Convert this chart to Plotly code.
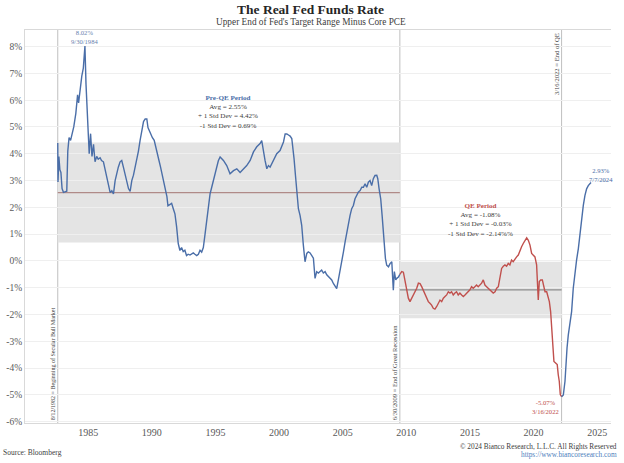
import plotly.graph_objects as go
from datetime import datetime

# ---------------- data ----------------
pre_qe_years = [1982.612, 1982.63, 1982.70, 1982.78, 1982.86, 1982.95, 1983.06, 1983.20, 1983.32, 1983.40,
                1983.50, 1983.62, 1983.75, 1983.87, 1984.03, 1984.17, 1984.25, 1984.37, 1984.50, 1984.62,
                1984.747, 1984.83, 1984.95, 1985.08, 1985.19, 1985.30, 1985.42, 1985.54, 1985.67, 1985.79,
                1985.94, 1986.05, 1986.20, 1986.36, 1986.47, 1986.61, 1986.73, 1986.86, 1986.99, 1987.12,
                1987.25, 1987.37, 1987.51, 1987.64, 1987.77, 1987.90, 1988.04, 1988.17, 1988.30, 1988.43,
                1988.56, 1988.69, 1988.82, 1988.95, 1989.08, 1989.22, 1989.35, 1989.48, 1989.61, 1989.70,
                1989.80, 1989.92, 1990.05, 1990.19, 1990.32, 1990.44, 1990.57, 1990.69, 1990.82, 1990.95,
                1991.07, 1991.19, 1991.27, 1991.42, 1991.56, 1991.69, 1991.82, 1991.95, 1992.08, 1992.21,
                1992.34, 1992.47, 1992.60, 1992.73, 1992.86, 1993.00, 1993.13, 1993.26, 1993.39, 1993.53,
                1993.66, 1993.79, 1993.92, 1994.05, 1994.19, 1994.32, 1994.45, 1994.58, 1994.71, 1994.84,
                1994.97, 1995.10, 1995.23, 1995.37, 1995.63, 1995.89, 1996.15, 1996.42, 1996.68, 1996.94,
                1997.20, 1997.46, 1997.73, 1997.99, 1998.25, 1998.51, 1998.64, 1998.77, 1998.90, 1999.04,
                1999.17, 1999.30, 1999.43, 1999.56, 1999.82, 2000.08, 2000.22, 2000.35, 2000.48, 2000.61,
                2000.74, 2000.87, 2001.00, 2001.08, 2001.18, 2001.29, 2001.39, 2001.52, 2001.65, 2001.78,
                2001.91, 2002.04, 2002.18, 2002.30, 2002.44, 2002.57, 2002.70, 2002.83, 2002.96, 2003.09,
                2003.22, 2003.35, 2003.48, 2003.62, 2003.75, 2003.88, 2004.01, 2004.14, 2004.27, 2004.40,
                2004.53, 2004.66, 2004.80, 2004.93, 2005.06, 2005.19, 2005.32, 2005.45, 2005.58, 2005.71,
                2005.84, 2005.97, 2006.10, 2006.23, 2006.37, 2006.50, 2006.63, 2006.76, 2006.89, 2007.02,
                2007.15, 2007.28, 2007.41, 2007.54, 2007.68, 2007.76, 2007.86, 2007.99, 2008.10, 2008.20,
                2008.28, 2008.36, 2008.46, 2008.60, 2008.72, 2008.86, 2008.93, 2008.98, 2009.06, 2009.17,
                2009.25, 2009.38, 2009.493]
pre_qe_vals = [4.40, 2.95, 3.90, 3.40, 3.30, 2.70, 2.56, 2.58, 2.60, 4.10,
               4.60, 4.50, 4.75, 5.00, 5.50, 6.20, 5.90, 6.50, 6.90, 7.20,
               8.02, 6.60, 5.40, 4.00, 4.75, 3.90, 4.35, 3.70, 3.90, 3.80,
               3.85, 3.75, 3.70, 3.35, 3.10, 2.88, 2.55, 2.62, 2.50, 3.00,
               3.30, 3.50, 3.70, 3.75, 3.50, 3.25, 3.00, 2.70, 2.60, 3.00,
               3.20, 3.50, 3.70, 4.10, 4.50, 4.85, 5.20, 5.30, 5.30, 4.98,
               4.85, 4.72, 4.60, 4.50, 4.20, 4.00, 3.74, 3.50, 3.20, 3.00,
               2.70, 2.40, 2.06, 2.10, 2.15, 1.95, 1.76, 1.28, 0.65, 0.39,
               0.50, 0.35, 0.40, 0.20, 0.25, 0.22, 0.25, 0.30, 0.25, 0.20,
               0.25, 0.40, 0.33, 0.50, 1.02, 1.50, 1.95, 2.50, 2.75, 3.00,
               3.25, 3.50, 3.74, 3.88, 3.75, 3.56, 3.25, 3.37, 3.44, 3.30,
               3.44, 3.56, 3.75, 4.07, 4.26, 4.38, 4.49, 4.07, 3.75, 3.44,
               3.56, 3.50, 3.62, 3.75, 4.00, 4.12, 4.30, 4.44, 4.74, 4.74,
               4.70, 4.66, 4.57, 4.30, 3.81, 3.19, 2.57, 1.95, 1.70, 1.33,
               0.59, -0.03, 0.28, 0.34, 0.30, 0.22, 0.10, -0.65, -0.40, -0.45,
               -0.40, -0.34, -0.45, -0.40, -0.52, -0.58, -0.65, -0.71, -0.84, -0.96,
               -1.03, -0.71, -0.28, 0.09, 0.34, 0.71, 1.09, 1.46, 1.70, 1.95,
               2.07, 2.32, 2.45, 2.57, 2.63, 2.75, 2.75, 2.88, 2.75, 2.94,
               3.00, 2.81, 3.07, 3.19, 3.20, 3.07, 2.70, 2.32, 1.70, 0.96,
               0.59, 0.09, -0.16, -0.22, -0.10, -0.03, -0.65, -1.09, -0.40, -0.71,
               -0.65, -0.60, -0.50]

qe_years = [2009.493, 2009.64, 2009.77, 2009.90, 2010.03, 2010.16, 2010.29, 2010.42, 2010.56, 2010.69,
            2010.82, 2010.95, 2011.08, 2011.21, 2011.34, 2011.47, 2011.60, 2011.73, 2011.86, 2011.99,
            2012.12, 2012.25, 2012.39, 2012.52, 2012.65, 2012.78, 2012.91, 2013.04, 2013.17, 2013.30,
            2013.43, 2013.56, 2013.69, 2013.82, 2013.95, 2014.08, 2014.21, 2014.35, 2014.48, 2014.61,
            2014.74, 2014.87, 2015.00, 2015.13, 2015.26, 2015.39, 2015.52, 2015.65, 2015.79, 2015.92,
            2016.05, 2016.18, 2016.31, 2016.44, 2016.57, 2016.70, 2016.83, 2016.97, 2017.10, 2017.23,
            2017.36, 2017.49, 2017.62, 2017.75, 2017.88, 2018.01, 2018.14, 2018.27, 2018.40, 2018.54,
            2018.67, 2018.80, 2018.93, 2019.06, 2019.19, 2019.32, 2019.46, 2019.59, 2019.72, 2019.85,
            2019.98, 2020.11, 2020.24, 2020.32, 2020.37, 2020.45, 2020.56, 2020.69, 2020.79, 2020.90,
            2021.03, 2021.16, 2021.24, 2021.34, 2021.42, 2021.50, 2021.60, 2021.73, 2021.86, 2021.94,
            2022.02, 2022.10, 2022.204]
qe_vals = [-0.50, -0.40, -0.42, -0.77, -1.15, -1.39, -1.52, -1.40, -1.27, -1.15,
           -1.02, -0.83, -0.85, -0.96, -1.10, -1.27, -1.40, -1.52, -1.58, -1.65,
           -1.77, -1.80, -1.70, -1.58, -1.46, -1.52, -1.39, -1.33, -1.27, -1.15,
           -1.20, -1.15, -1.27, -1.20, -1.15, -1.27, -1.20, -1.27, -1.33, -1.27,
           -1.20, -1.15, -1.08, -0.96, -1.02, -0.96, -0.90, -0.96, -0.90, -0.83,
           -0.71, -0.90, -0.96, -1.02, -1.08, -1.15, -1.20, -1.15, -1.02, -0.96,
           -0.53, -0.28, -0.20, -0.15, -0.20, -0.09, -0.15, 0.03, -0.03, 0.09,
           0.15, 0.22, 0.40, 0.53, 0.65, 0.77, 0.86, 0.77, 0.59, 0.28,
           0.22, 0.15, -0.15, -1.02, -1.46, -0.77, -0.71, -0.71, -0.90, -1.15,
           -1.15, -1.33, -1.52, -1.89, -2.51, -3.25, -3.75, -3.81, -3.87, -4.25,
           -4.49, -4.99, -5.07]

post_qe_years = [2022.204, 2022.34, 2022.47, 2022.55, 2022.63, 2022.73, 2022.86, 2022.99, 2023.12, 2023.25,
                 2023.38, 2023.52, 2023.65, 2023.78, 2023.91, 2024.04, 2024.17, 2024.30, 2024.43, 2024.513]
post_qe_vals = [-5.07, -5.00, -4.49, -3.75, -3.25, -2.76, -2.26, -1.89, -1.02, -0.40,
                0.03, 0.46, 1.09, 1.70, 2.07, 2.45, 2.69, 2.81, 2.90, 2.93]

pre_qe_stats = [2.55, 4.42, 0.69]     # avg, +1 sd, -1 sd
qe_stats = [-1.08, -0.03, -2.14]

event_dates = ["1982-08-12", "2009-06-30", "2022-03-16"]
event_labels = ["8/12/1982 = Beginning of Secular Bull Market",
                "6/30/2009 = End of Great Recession",
                "3/16/2022 = End of QE"]
point_labels = ["9/30/1984", "3/16/2022", "7/7/2024"]

year_ticks = [1985, 1990, 1995, 2000, 2005, 2010, 2015, 2020, 2025]
pct_ticks = [-6, -5, -4, -3, -2, -1, 0, 1, 2, 3, 4, 5, 6, 7, 8]

# ---------------- helpers ----------------
def to_date(y):
    yi = int(y)
    a = datetime(yi, 1, 1)
    b = datetime(yi + 1, 1, 1)
    return a + (b - a) * (y - yi)

BLUE = "#4a6ea8"
RED = "#c0504d"
SERIF = "Liberation Serif"
TXT = "#404040"

fig = go.Figure()
for xs, ys, col in [(pre_qe_years, pre_qe_vals, BLUE),
                    (qe_years, qe_vals, RED),
                    (post_qe_years, post_qe_vals, BLUE)]:
    fig.add_trace(go.Scatter(x=[to_date(v) for v in xs], y=ys, mode="lines",
                             line=dict(color=col, width=1.4), showlegend=False,
                             hoverinfo="x+y"))

shapes = []
# std-dev bands
shapes.append(dict(type="rect", xref="x", yref="y", x0=event_dates[0], x1=event_dates[1],
                   y0=pre_qe_stats[2], y1=pre_qe_stats[1], fillcolor="#e4e4e4",
                   line=dict(width=0), layer="below"))
shapes.append(dict(type="rect", xref="x", yref="y", x0=event_dates[1], x1=event_dates[2],
                   y0=qe_stats[2], y1=qe_stats[1], fillcolor="#e4e4e4",
                   line=dict(width=0), layer="below"))
# averages
shapes.append(dict(type="line", xref="x", yref="y", x0=event_dates[0], x1=event_dates[1],
                   y0=pre_qe_stats[0], y1=pre_qe_stats[0], line=dict(color="#b08a88", width=1.2),
                   layer="below"))
shapes.append(dict(type="line", xref="x", yref="y", x0=event_dates[1], x1=event_dates[2],
                   y0=qe_stats[0], y1=qe_stats[0], line=dict(color="#8c8c8c", width=1.2),
                   layer="below"))
# event lines
for d in event_dates:
    shapes.append(dict(type="line", xref="x", yref="paper", x0=d, x1=d, y0=0, y1=1,
                       line=dict(color="#bfbfbf", width=1), layer="below"))

ann = []
def A(**kw):
    base = dict(showarrow=False, borderpad=0, xanchor="center", yanchor="middle",
                font=dict(family=SERIF, size=7.3, color=TXT))
    base.update(kw)
    ann.append(base)

# event labels (vertical)
A(x=event_dates[0], y=0, xref="x", yref="paper", text=event_labels[0], textangle=-90,
  xanchor="right", yanchor="bottom", xshift=-1, yshift=2, font=dict(family=SERIF, size=6.0, color=TXT))
A(x=event_dates[1], y=0, xref="x", yref="paper", text=event_labels[1], textangle=-90,
  xanchor="right", yanchor="bottom", xshift=-1, yshift=2, font=dict(family=SERIF, size=6.5, color=TXT))
A(x=event_dates[2], y=1, xref="x", yref="paper", text=event_labels[2], textangle=-90,
  xanchor="right", yanchor="top", xshift=-1, yshift=-2, font=dict(family=SERIF, size=6.6, color=TXT))

# peak label
peak_i = pre_qe_vals.index(max(pre_qe_vals))
A(x=to_date(pre_qe_years[peak_i]), y=pre_qe_vals[peak_i],
  text=f"{pre_qe_vals[peak_i]:.2f}%<br>{point_labels[0]}",
  yanchor="bottom", yshift=0, font=dict(family=SERIF, size=6.6, color="#6a84b0"))

# trough label
A(x=to_date(qe_years[-1]), y=qe_vals[-1], text=f"{qe_vals[-1]:.2f}%<br>{point_labels[1]}",
  xshift=-16, yanchor="top", yshift=-1, font=dict(family=SERIF, size=6.6, color=RED))

# last value label
A(x=to_date(post_qe_years[-1]), y=post_qe_vals[-1],
  text=f"{post_qe_vals[-1]:.2f}%<br>{point_labels[2]}", xshift=10,
  yanchor="bottom", yshift=-2, font=dict(family=SERIF, size=6.6, color=BLUE))

# period stat boxes
pre_text = (f"<span style='color:{BLUE}'><b>Pre-QE Period</b></span><br>"
            f"Avg = {pre_qe_stats[0]:.2f}%<br>"
            f"+ 1 Std Dev = {pre_qe_stats[1]:.2f}%<br>"
            f"-1 Std Dev = {pre_qe_stats[2]:.2f}%")
A(x=to_date(1996.0), y=5.55, text=pre_text, font=dict(family=SERIF, size=7.1, color=TXT))
qe_text = (f"<span style='color:{RED}'><b>QE Period</b></span><br>"
           f"Avg = {qe_stats[0]:.2f}%<br>"
           f"+ 1 Std Dev = {qe_stats[1]:.2f}%<br>"
           f"-1 Std Dev = {qe_stats[2]:.2f}%%")
A(x=to_date(2015.87), y=1.52, text=qe_text, font=dict(family=SERIF, size=7.1, color=TXT))

# titles & footers (paper coords; plot area: left 25, width 586, top 30, height 393)
A(x=0.488, y=1.051, xref="paper", yref="paper", text="<b>The Real Fed Funds Rate</b>",
  font=dict(family=SERIF, size=13.5, color="#262626"))
A(x=0.488, y=1.020, xref="paper", yref="paper", text="Upper End of Fed's Target Range Minus Core PCE",
  font=dict(family=SERIF, size=9.3, color=TXT))
A(x=-0.039, y=-0.074, xref="paper", yref="paper", text="Source: Bloomberg", xanchor="left",
  font=dict(family=SERIF, size=7.5, color=TXT))
A(x=1.012, y=-0.060, xref="paper", yref="paper", text="© 2024 Bianco Research, L.L.C. All Rights Reserved",
  xanchor="right", font=dict(family=SERIF, size=7.3, color=TXT))
A(x=1.012, y=-0.081, xref="paper", yref="paper", text="https://www.biancoresearch.com",
  xanchor="right", font=dict(family=SERIF, size=7.3, color="#4f81bd"))

fig.update_layout(
    width=624, height=463,
    margin=dict(l=25, r=13, t=30, b=40),
    paper_bgcolor="white", plot_bgcolor="white",
    shapes=shapes, annotations=ann,
    xaxis=dict(type="date", range=["1980-01-15", "2026-02-01"],
               tickvals=[f"{y}-01-01" for y in year_ticks], ticktext=[str(y) for y in year_ticks],
               showgrid=False, zeroline=False, showline=True, mirror=True, linecolor="#d9d9d9",
               ticks="", tickfont=dict(family=SERIF, size=10, color="#595959"), automargin=False),
    yaxis=dict(range=[-6.05, 8.62], tickvals=pct_ticks, ticktext=[f"{v}%" for v in pct_ticks],
               showgrid=True, gridcolor="#efefef", gridwidth=1, zeroline=False,
               showline=True, linecolor="#d9d9d9", ticks="",
               tickfont=dict(family=SERIF, size=9.5, color="#595959"), automargin=False),
    hovermode="closest",
)

fig.write_html("out.html")
